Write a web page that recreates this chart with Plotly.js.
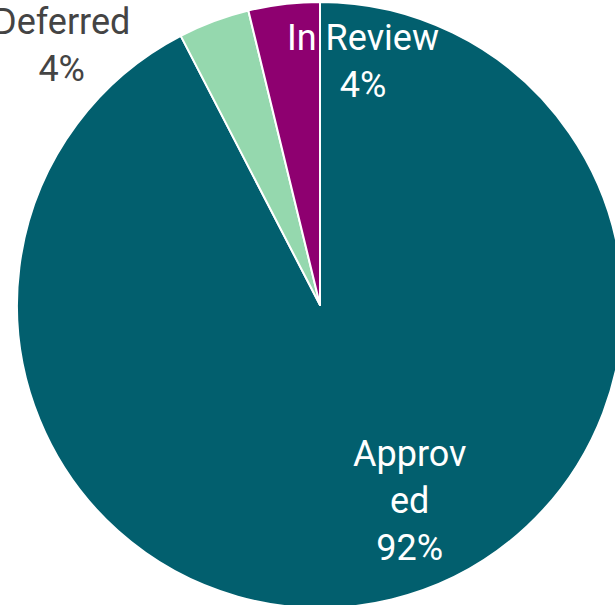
<!DOCTYPE html>
<html>
<head>
<meta charset="utf-8">
<script src="https://cdn.plot.ly/plotly-3.0.1.min.js"></script>
<style>
html,body{margin:0;padding:0;overflow:hidden;background:#fff;}
#chart{width:640px;height:608px;}
</style>
</head>
<body>
<div id="chart"></div>
<script>
// Data
var labels = ["Approved", "Deferred", "In Review"];
var values = [92.4, 3.8, 3.8];
var colors = ["#025f6e", "#95d8ae", "#8e0070"];

// Label placement (pixel positions of the text block centres) and styling
var labelPos = [[409, 501], [61, 45], [363, 61]];
var labelColor = ["#ffffff", "#444444", "#ffffff"];
var wrapAt = [6, 20, 20];

var W = 640, H = 608, TOP = 2;

function wrap(s, n) {
  var out = [];
  s.split(" ").forEach(function (w) {
    while (w.length > n) { out.push(w.slice(0, n)); w = w.slice(n); }
    if (w.length) out.push(w);
  });
  var lines = [], cur = "";
  out.forEach(function (w) {
    if (cur && (cur + " " + w).length <= n) cur += " " + w;
    else { if (cur) lines.push(cur); cur = w; }
  });
  if (cur) lines.push(cur);
  return lines.join("<br>");
}

var total = values.reduce(function (a, b) { return a + b; }, 0);
var annotations = labels.map(function (lab, i) {
  var pct = Math.round(values[i] / total * 100) + "%";
  return {
    text: wrap(lab, wrapAt[i]) + "<br>" + pct,
    xref: "paper", yref: "paper",
    x: labelPos[i][0] / W,
    y: 1 - (labelPos[i][1] - TOP) / (H - TOP),
    xanchor: "center", yanchor: "middle",
    showarrow: false,
    align: "center",
    font: {family: "Roboto, sans-serif", size: 36, color: labelColor[i]}
  };
});

var trace = {
  type: "pie",
  labels: labels,
  values: values,
  sort: false,
  direction: "clockwise",
  rotation: 0,
  textinfo: "none",
  marker: {colors: colors, line: {color: "#ffffff", width: 2}},
  hoverinfo: "label+percent"
};

var layout = {
  width: W, height: H,
  margin: {l: 0, r: 0, t: TOP, b: 0, pad: 0},
  showlegend: false,
  paper_bgcolor: "#ffffff",
  font: {family: "Roboto, sans-serif"},
  annotations: annotations
};

Plotly.newPlot("chart", [trace], layout, {displayModeBar: false, staticPlot: true});
</script>
</body>
</html>
